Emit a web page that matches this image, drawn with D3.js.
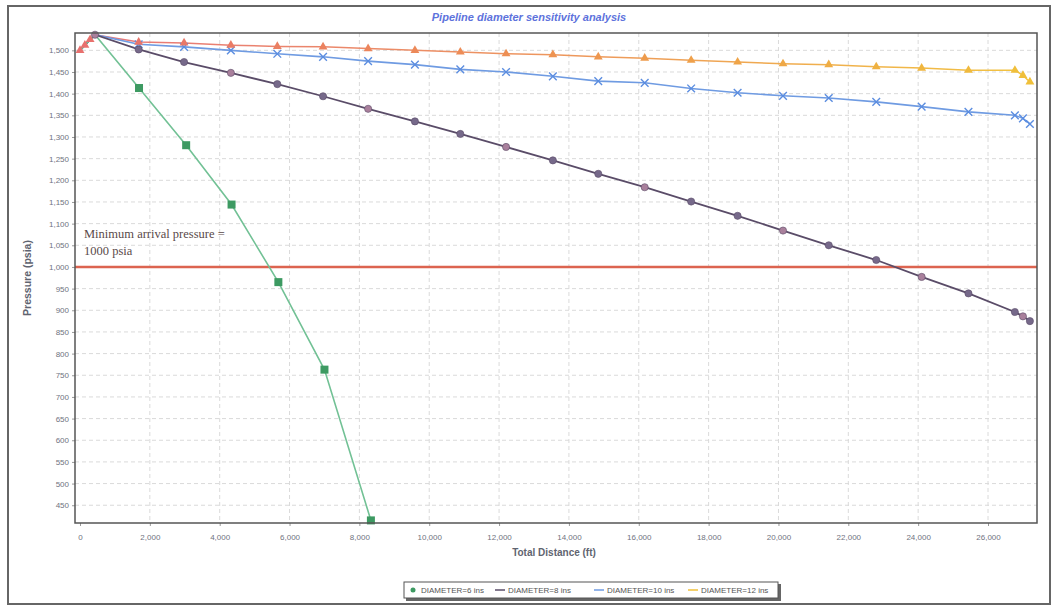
<!DOCTYPE html>
<html>
<head>
<meta charset="utf-8">
<script src="https://d3js.org/d3.v7.min.js"></script>
<title>Pipeline diameter sensitivity analysis</title>
<style>
body { margin: 0; background: #fff; }
</style>
</head>
<body>
<script>

// distances (ft) of the calculation nodes
var distance6 = [0, 140, 290, 430, 1690, 3040, 4340, 5680, 7000, 8330];
var distance = [0, 140, 290, 430, 1680, 2980, 4320, 5650, 6960, 8250, 9590, 10890, 12200,
  13540, 14840, 16170, 17500, 18830, 20130, 21440, 22800, 24100, 25440, 26770, 27000, 27200];

// pressures (psia) per diameter
var press6 = [1500, 1512, 1525, 1536, 1413, 1281, 1144, 965, 763, 415];
var press8 = [1500, 1512, 1525, 1536, 1502, 1473, 1448, 1422, 1394, 1365, 1336, 1307, 1277,
  1246, 1215, 1184, 1151, 1118, 1084, 1050, 1016, 977, 939, 896, 886, 875];
var press10 = [1500, 1512, 1525, 1536, 1514, 1508, 1500, 1492, 1485, 1475, 1467, 1456, 1450,
  1440, 1429, 1425, 1412, 1402, 1395, 1390, 1381, 1370, 1358, 1350, 1343, 1330];
var press12 = [1500, 1512, 1525, 1536, 1519, 1517, 1512, 1509, 1508, 1504, 1500, 1496, 1492,
  1490, 1485, 1482, 1477, 1473, 1469, 1467, 1462, 1459, 1454, 1454, 1442, 1427];

var seriesNames = ["DIAMETER=6 ins", "DIAMETER=8 ins", "DIAMETER=10 ins", "DIAMETER=12 ins"];
var yTicks = d3.range(450, 1501, 50);
var xTicks = d3.range(0, 26001, 2000);
var minPressure = 1000;

var W = 1054, H = 608;
var plot = {left: 75, top: 33, right: 1037, bottom: 523};

var svg = d3.select("body").append("svg")
    .attr("width", W)
    .attr("height", H)
    .style("font-family", "Arial, 'Liberation Sans', sans-serif");

var defs = svg.append("defs");
var grad = defs.append("linearGradient")
    .attr("id", "orangeGrad")
    .attr("gradientUnits", "userSpaceOnUse")
    .attr("x1", plot.left).attr("x2", plot.right)
    .attr("y1", 0).attr("y2", 0);
grad.append("stop").attr("offset", "0%").attr("stop-color", "#e8767a");
grad.append("stop").attr("offset", "55%").attr("stop-color", "#ee9a5a");
grad.append("stop").attr("offset", "100%").attr("stop-color", "#f2c440");

// outer frame
svg.append("rect")
    .attr("x", 8).attr("y", 6)
    .attr("width", 1042).attr("height", 598)
    .attr("fill", "#fff")
    .attr("stroke", "#666")
    .attr("stroke-width", 2);

var x = d3.scaleLinear().domain([-143, 27403]).range([plot.left, plot.right]);
var y = d3.scaleLinear().domain([409, 1540]).range([plot.bottom, plot.top]);

// title
svg.append("text")
    .attr("x", 529).attr("y", 21)
    .attr("text-anchor", "middle")
    .attr("font-size", 11)
    .attr("font-weight", "bold")
    .attr("font-style", "italic")
    .attr("fill", "#5d72dc")
    .text("Pipeline diameter sensitivity analysis");

// grid
var grid = svg.append("g");
grid.selectAll("line.h")
    .data(yTicks)
    .enter().append("line")
    .attr("x1", plot.left).attr("x2", plot.right)
    .attr("y1", function(d) { return y(d); })
    .attr("y2", function(d) { return y(d); })
    .attr("stroke", "#dadada")
    .attr("stroke-dasharray", "4,3");
grid.selectAll("line.v")
    .data(xTicks.slice(1))
    .enter().append("line")
    .attr("y1", plot.top).attr("y2", plot.bottom)
    .attr("x1", function(d) { return x(d); })
    .attr("x2", function(d) { return x(d); })
    .attr("stroke", "#dadada")
    .attr("stroke-dasharray", "4,3");

// axes
var fmt = d3.format(",");
var yAxis = svg.append("g")
    .attr("transform", "translate(" + plot.left + ",0)")
    .call(d3.axisLeft(y).tickValues(yTicks).tickFormat(fmt).tickSize(3).tickPadding(3));
var xAxis = svg.append("g")
    .attr("transform", "translate(0," + plot.bottom + ")")
    .call(d3.axisBottom(x).tickValues(xTicks).tickFormat(fmt).tickSize(3).tickPadding(8));
[xAxis, yAxis].forEach(function(a) {
  a.select(".domain").remove();
  a.selectAll("line").attr("stroke", "#999");
  a.selectAll("text")
      .attr("font-size", 8)
      .attr("fill", "#6f7380")
      .attr("font-family", "Arial, 'Liberation Sans', sans-serif");
});

svg.append("text")
    .attr("transform", "translate(31," + ((plot.top + plot.bottom) / 2) + ") rotate(-90)")
    .attr("text-anchor", "middle")
    .attr("font-size", 10.5)
    .attr("font-weight", "bold")
    .attr("fill", "#5f6470")
    .text("Pressure (psia)");

svg.append("text")
    .attr("x", 554).attr("y", 556)
    .attr("text-anchor", "middle")
    .attr("font-size", 10)
    .attr("font-weight", "bold")
    .attr("fill", "#5f6470")
    .text("Total Distance (ft)");

// minimum arrival pressure line
svg.append("line")
    .attr("x1", plot.left).attr("x2", plot.right)
    .attr("y1", y(minPressure)).attr("y2", y(minPressure))
    .attr("stroke", "#dc6450")
    .attr("stroke-width", 2.5);

var note = svg.append("text")
    .attr("font-family", "'Liberation Serif', 'Times New Roman', serif")
    .attr("font-size", 12.5)
    .attr("fill", "#5a4a4a");
note.append("tspan").attr("x", 84).attr("y", 238).text("Minimum arrival pressure =");
note.append("tspan").attr("x", 84).attr("y", 255).text("1000 psia");

// series
var line = d3.line()
    .x(function(d) { return x(d[0]); })
    .y(function(d) { return y(d[1]); });

function pairs(xs, ys) { return xs.map(function(d, i) { return [d, ys[i]]; }); }

var s6 = pairs(distance6, press6);
var s8 = pairs(distance, press8);
var s10 = pairs(distance, press10);
var s12 = pairs(distance, press12);

var plotG = svg.append("g");

plotG.append("path").datum(s12)
    .attr("fill", "none").attr("stroke", "url(#orangeGrad)").attr("stroke-width", 1.5)
    .attr("d", line);
plotG.append("path").datum(s10)
    .attr("fill", "none").attr("stroke", "#6f9be2").attr("stroke-width", 1.6)
    .attr("d", line);
plotG.append("path").datum(s8)
    .attr("fill", "none").attr("stroke", "#5a4c68").attr("stroke-width", 1.8)
    .attr("d", line);
plotG.append("path").datum(s6)
    .attr("fill", "none").attr("stroke", "#72c195").attr("stroke-width", 1.6)
    .attr("d", line);

var orangeColor = d3.scaleLinear()
    .domain([0, 14000, 27200])
    .range(["#e8706e", "#ee9450", "#f0c03a"]);

// crosses (10 ins)
plotG.selectAll("path.cross")
    .data(s10.slice(4))
    .enter().append("path")
    .attr("d", d3.symbol().type(d3.symbolX).size(40))
    .attr("transform", function(d) { return "translate(" + x(d[0]) + "," + y(d[1]) + ")"; })
    .attr("fill", "none")
    .attr("stroke", "#5b8de0")
    .attr("stroke-width", 1.4);

// circles (8 ins)
plotG.selectAll("circle.c8")
    .data(s8.slice(3))
    .enter().append("circle")
    .attr("cx", function(d) { return x(d[0]); })
    .attr("cy", function(d) { return y(d[1]); })
    .attr("r", 3.6)
    .attr("fill", function(d, i) { return i % 3 === 0 ? "#a9809c" : "#76698a"; })
    .attr("stroke", "#5a4c68")
    .attr("stroke-width", 0.6);

// triangles (12 ins)
plotG.selectAll("path.tri")
    .data(s12.filter(function(d, i) { return i !== 3; }))
    .enter().append("path")
    .attr("d", d3.symbol().type(d3.symbolTriangle).size(34))
    .attr("transform", function(d) { return "translate(" + x(d[0]) + "," + y(d[1]) + ")"; })
    .attr("fill", function(d) { return orangeColor(d[0]); });

// squares (6 ins)
plotG.selectAll("rect.sq")
    .data(s6.slice(4))
    .enter().append("rect")
    .attr("x", function(d) { return x(d[0]) - 4; })
    .attr("y", function(d) { return y(d[1]) - 4; })
    .attr("width", 8).attr("height", 8)
    .attr("fill", "#3d9a62");

// plot border
svg.append("rect")
    .attr("x", plot.left).attr("y", plot.top)
    .attr("width", plot.right - plot.left)
    .attr("height", plot.bottom - plot.top)
    .attr("fill", "none")
    .attr("stroke", "#555")
    .attr("stroke-width", 1.5);

// legend
var lg = svg.append("g").attr("transform", "translate(404,582)");
lg.append("rect").attr("x", 2).attr("y", 2).attr("width", 375).attr("height", 17).attr("fill", "#666");
lg.append("rect").attr("width", 374).attr("height", 16)
    .attr("fill", "#fff").attr("stroke", "#555").attr("stroke-width", 1);

var legendX = [6, 93, 192, 286];
var legendColors = ["#3d9a62", "#5a4c68", "#6f9be2", "#f0c03a"];
var items = lg.selectAll("g.item")
    .data(seriesNames)
    .enter().append("g")
    .attr("transform", function(d, i) { return "translate(" + legendX[i] + ",8)"; });
items.each(function(d, i) {
  var g = d3.select(this);
  if (i === 0) {
    g.append("circle").attr("cx", 3).attr("cy", 0).attr("r", 2.5).attr("fill", legendColors[i]);
  } else {
    g.append("line").attr("x1", -2).attr("x2", 8).attr("y1", 0).attr("y2", 0)
        .attr("stroke", legendColors[i]).attr("stroke-width", 1.5);
  }
  g.append("text")
      .attr("x", 11).attr("y", 3)
      .attr("font-size", 8)
      .attr("fill", "#555")
      .text(d);
});

</script>
</body>
</html>
